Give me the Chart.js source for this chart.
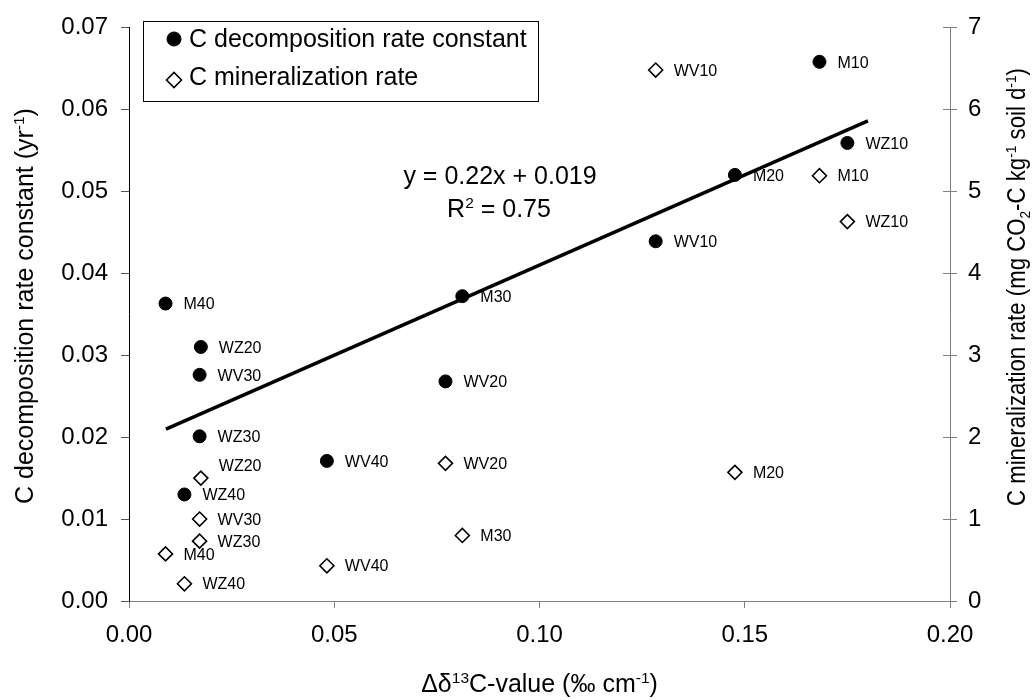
<!DOCTYPE html>
<html>
<head>
<meta charset="utf-8">
<title>C decomposition and mineralization vs. Δδ13C gradient</title>
<script src="https://cdn.jsdelivr.net/npm/chart.js@4.4.1/dist/chart.umd.min.js"></script>
<style>
  html, body { margin: 0; padding: 0; background: #ffffff; }
  #wrap { width: 1036px; height: 700px; position: relative; }
</style>
</head>
<body>
<div id="wrap"><canvas id="chart" width="1036" height="700"></canvas></div>
<script>
// Soil samples: site (M, WV, WZ) and depth (cm)
const sampleLabels = ['M10', 'M20', 'M30', 'M40', 'WV10', 'WV20', 'WV30', 'WV40', 'WZ10', 'WZ20', 'WZ30', 'WZ40'];
// Δδ13C gradient (‰ cm-1)
const delta13C = [0.1682, 0.1476, 0.0812, 0.0089, 0.1283, 0.0771, 0.0172, 0.0482, 0.1750, 0.0175, 0.0172, 0.0135];
// C decomposition rate constant (yr-1), left axis
const decompRate = [0.0658, 0.0520, 0.0372, 0.0363, 0.0439, 0.0268, 0.0276, 0.0171, 0.0559, 0.0310, 0.0201, 0.0130];
// C mineralization rate (mg CO2-C kg-1 soil d-1), right axis
const mineralRate = [5.19, 1.57, 0.80, 0.575, 6.48, 1.68, 1.00, 0.43, 4.63, 1.50, 0.73, 0.21];

// Linear fit of the decomposition rate constant
const fitSlope = 0.22;
const fitIntercept = 0.019;
const fitR2 = 0.75;
const fitRange = [0.009, 0.18];

// Axis ticks
const xTicks = [0, 0.05, 0.10, 0.15, 0.20];
const yLeftTicks = [0, 0.01, 0.02, 0.03, 0.04, 0.05, 0.06, 0.07];
const yRightTicks = [0, 1, 2, 3, 4, 5, 6, 7];

const FONT = '"Liberation Sans", Arial, Helvetica, sans-serif';
const AXIS_GREY = '#808080';

const decompPoints = delta13C.map((x, i) => ({ x, y: decompRate[i] }));
const mineralPoints = delta13C.map((x, i) => ({ x, y: mineralRate[i] }));
const fitPoints = fitRange.map(x => ({ x, y: fitSlope * x + fitIntercept }));

// Draws text runs with superscript / subscript parts on the baseline y
function richWidth(ctx, parts, size) {
  let w = 0;
  for (const p of parts) {
    ctx.font = (p.s ? size * 0.62 : size) + 'px ' + FONT;
    w += ctx.measureText(p.t).width;
  }
  return w;
}
function drawRich(ctx, parts, x, y, size, align) {
  const w = richWidth(ctx, parts, size);
  let cx = align === 'center' ? x - w / 2 : x;
  ctx.textAlign = 'left';
  ctx.textBaseline = 'alphabetic';
  for (const p of parts) {
    const fs = p.s ? size * 0.62 : size;
    ctx.font = fs + 'px ' + FONT;
    const dy = p.s === 'sup' ? -size * 0.36 : (p.s === 'sub' ? size * 0.18 : 0);
    ctx.fillText(p.t, cx, y + dy);
    cx += ctx.measureText(p.t).width;
  }
}

// Sample names beside each marker; a few are lifted to stay clear of neighbours
const labelLift = { 'C mineralization rate': { WZ20: -13 } };
const pointLabels = {
  id: 'pointLabels',
  afterDatasetsDraw(chart) {
    const ctx = chart.ctx;
    ctx.save();
    ctx.fillStyle = '#000';
    ctx.font = '16px ' + FONT;
    ctx.textAlign = 'left';
    ctx.textBaseline = 'alphabetic';
    [0, 1].forEach(di => {
      const ds = chart.data.datasets[di];
      const meta = chart.getDatasetMeta(di);
      const lift = labelLift[ds.label] || {};
      meta.data.forEach((el, j) => {
        const name = sampleLabels[j];
        const dy = lift[name] || 0;
        ctx.fillText(name, el.x + 18, el.y + dy + 5.7);
      });
    });
    ctx.restore();
  }
};

// Inner half of the right-axis tick marks (they cross the axis line)
const rightAxisCross = {
  id: 'rightAxisCross',
  afterDraw(chart) {
    const s = chart.scales.y2;
    const ctx = chart.ctx;
    ctx.save();
    ctx.strokeStyle = AXIS_GREY;
    ctx.lineWidth = 1;
    s.ticks.forEach(t => {
      const y = Math.round(s.getPixelForValue(t.value)) + 0.5;
      ctx.beginPath();
      ctx.moveTo(s.left - 7, y);
      ctx.lineTo(s.left, y);
      ctx.stroke();
    });
    ctx.restore();
  }
};

// Legend box, regression equation and axis titles
const annotations = {
  id: 'annotations',
  afterDraw(chart) {
    const ctx = chart.ctx;
    const area = chart.chartArea;
    ctx.save();
    ctx.fillStyle = '#000';

    // legend
    ctx.strokeStyle = '#000';
    ctx.lineWidth = 1;
    ctx.fillStyle = '#fff';
    ctx.fillRect(143.5, 21.5, 395, 80);
    ctx.strokeRect(143.5, 21.5, 395, 80);
    const items = [
      { ds: chart.data.datasets[0], y: 46.5, my: 39, r: 7 },
      { ds: chart.data.datasets[1], y: 85, my: 80, r: 7.5 }
    ];
    items.forEach(it => {
      ctx.fillStyle = it.ds.backgroundColor;
      ctx.strokeStyle = it.ds.borderColor;
      ctx.lineWidth = it.ds.borderWidth;
      Chart.helpers.drawPoint(ctx, { pointStyle: it.ds.pointStyle, radius: it.r, borderWidth: it.ds.borderWidth, rotation: 0 }, 174, it.my);
      ctx.fillStyle = '#000';
      ctx.font = '25px ' + FONT;
      ctx.textAlign = 'left';
      ctx.textBaseline = 'alphabetic';
      ctx.fillText(it.ds.label, 189, it.y);
    });

    // regression equation
    ctx.fillStyle = '#000';
    drawRich(ctx, [{ t: 'y = ' + fitSlope.toFixed(2) + 'x + ' + fitIntercept.toFixed(3) }], 500, 184, 25, 'center');
    drawRich(ctx, [{ t: 'R' }, { t: '2', s: 'sup' }, { t: ' = ' + fitR2.toFixed(2) }], 499, 217, 25, 'center');

    // x-axis title
    drawRich(ctx, [{ t: 'Δδ' }, { t: '13', s: 'sup' }, { t: 'C-value (‰ cm' }, { t: '-1', s: 'sup' }, { t: ')' }],
      (area.left + area.right) / 2, 692, 25, 'center');

    // left axis title
    ctx.save();
    ctx.translate(33, 306);
    ctx.rotate(-Math.PI / 2);
    drawRich(ctx, [{ t: 'C decomposition rate constant (yr' }, { t: '-1', s: 'sup' }, { t: ')' }], 0, 0, 25, 'center');
    ctx.restore();

    // right axis title, set slightly condensed along its length
    const rightTitle = [{ t: 'C mineralization rate (mg CO' }, { t: '2', s: 'sub' }, { t: '-C kg' }, { t: '-1', s: 'sup' },
      { t: ' soil d' }, { t: '-1', s: 'sup' }, { t: ')' }];
    const rtWidth = richWidth(ctx, rightTitle, 25);
    ctx.save();
    ctx.translate(1025, 287);
    ctx.rotate(-Math.PI / 2);
    ctx.scale(438 / rtWidth, 1);
    drawRich(ctx, rightTitle, 0, 0, 25, 'center');
    ctx.restore();

    ctx.restore();
  }
};

const tickFont = { family: FONT, size: 24 };

new Chart(document.getElementById('chart'), {
  data: {
    datasets: [
      {
        type: 'scatter',
        label: 'C decomposition rate constant',
        data: decompPoints,
        yAxisID: 'y',
        pointStyle: 'circle',
        pointRadius: 6.5,
        backgroundColor: '#000000',
        borderColor: '#000000',
        borderWidth: 1,
        order: 2
      },
      {
        type: 'scatter',
        label: 'C mineralization rate',
        data: mineralPoints,
        yAxisID: 'y2',
        pointStyle: 'rectRot',
        pointRadius: 7,
        backgroundColor: '#ffffff',
        borderColor: '#000000',
        borderWidth: 1.6,
        order: 1
      },
      {
        type: 'line',
        label: 'Linear fit',
        data: fitPoints,
        yAxisID: 'y',
        borderColor: '#000000',
        borderWidth: 3.5,
        pointRadius: 0,
        fill: false,
        tension: 0,
        order: 0
      }
    ]
  },
  options: {
    responsive: false,
    animation: false,
    devicePixelRatio: 1,
    layout: { padding: { top: 20, left: 0, right: 0, bottom: 0 } },
    plugins: { legend: { display: false }, tooltip: { enabled: false } },
    scales: {
      x: {
        type: 'linear',
        position: 'bottom',
        min: xTicks[0],
        max: xTicks[xTicks.length - 1],
        afterBuildTicks(s) { s.ticks = xTicks.map(v => ({ value: v })); },
        ticks: { font: tickFont, color: '#000', padding: 13, maxRotation: 0, callback: v => Number(v).toFixed(2) },
        grid: { drawOnChartArea: false, drawTicks: true, tickLength: 7, color: AXIS_GREY },
        border: { color: AXIS_GREY, width: 1 },
        afterFit(s) { s.height = 99; }
      },
      y: {
        position: 'left',
        min: yLeftTicks[0],
        max: yLeftTicks[yLeftTicks.length - 1],
        afterBuildTicks(s) { s.ticks = yLeftTicks.map(v => ({ value: v })); },
        ticks: { font: tickFont, color: '#000', padding: 13, callback: v => Number(v).toFixed(2) },
        grid: { drawOnChartArea: false, drawTicks: true, tickLength: 8, color: '#555555' },
        border: { color: '#000000', width: 1 },
        afterFit(s) { s.width = 129; }
      },
      y2: {
        position: 'right',
        min: yRightTicks[0],
        max: yRightTicks[yRightTicks.length - 1],
        afterBuildTicks(s) { s.ticks = yRightTicks.map(v => ({ value: v })); },
        ticks: { font: tickFont, color: '#000', padding: 11, callback: v => String(v) },
        grid: { drawOnChartArea: false, drawTicks: true, tickLength: 7, color: AXIS_GREY },
        border: { color: AXIS_GREY, width: 1 },
        afterFit(s) { s.width = 86; }
      }
    }
  },
  plugins: [pointLabels, rightAxisCross, annotations]
});
</script>
</body>
</html>
